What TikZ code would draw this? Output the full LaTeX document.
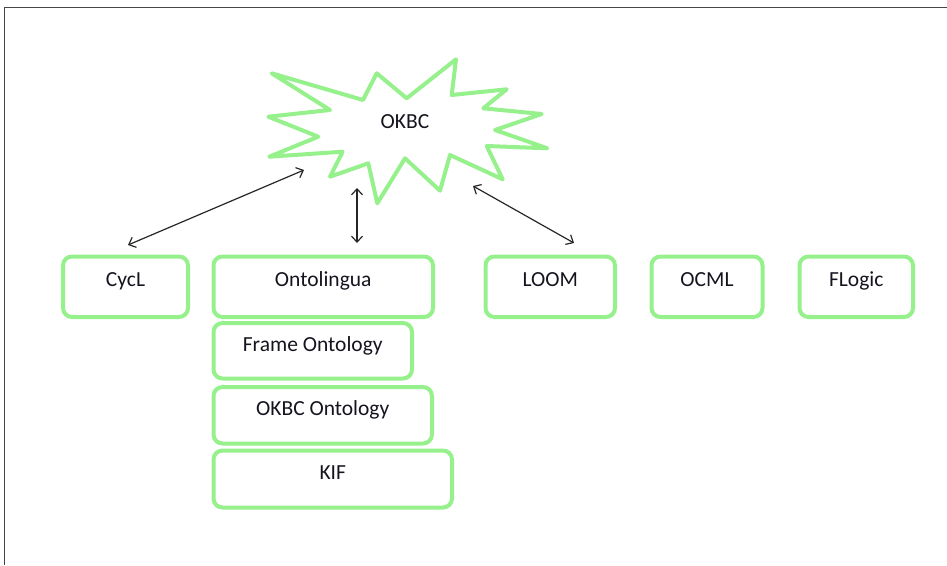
\documentclass[tikz,border=0pt]{standalone}
\usepackage{fontspec}
\setmainfont{Carlito}
\usetikzlibrary{arrows.meta}
\definecolor{lgreen}{RGB}{150,240,140}
\definecolor{framegray}{RGB}{70,70,70}
\definecolor{txt}{RGB}{20,20,30}
\tikzset{
  box/.style={draw=lgreen, line width=4pt, rounded corners=9pt, inner sep=0pt,
    font=\fontsize{21.5}{25}\selectfont, text=txt},
  link/.style={draw=black!85, line width=1.2pt, {Straight Barb[length=6pt,width=11pt]}-{Straight Barb[length=6pt,width=11pt]}},
  starline/.style={draw=lgreen, line width=4pt, line join=round}
}
\begin{document}
\begin{tikzpicture}[x=1pt,y=-1pt]
\useasboundingbox (0,0) rectangle (947,565);
% frame
\draw[framegray, line width=1.6pt] (4.5,565) -- (4.5,7.5) -- (947,7.5);
% star
\draw[starline] (271.7,73.3) -- (363,100) -- (376.7,73.3) -- (406.7,98.3) -- (456,59.3)
  -- (451.7,95) -- (506.7,89.3) -- (483.3,108.3) -- (541.7,114) -- (495,130)
  -- (547.3,148.3) -- (486.7,146) -- (502.7,179.3) -- (450,155) -- (440,190.7)
  -- (405,158.3) -- (377.3,203.3) -- (368.3,163.3) -- (330,176.7) -- (342.7,151.7)
  -- (269.3,156.7) -- (318.3,136.7) -- (268.3,116.7) -- (330,110) -- cycle;
\node[font=\fontsize{21.5}{25}\selectfont, text=txt] (okbc) at (405,121.7) {OKBC};
% boxes
\node[box, minimum width=125pt, minimum height=60.5pt, text height=30pt, text depth=30.5pt] (cycl) at (125.5,286.75) {CycL};
\node[box, minimum width=219.5pt, minimum height=60.5pt, text height=30pt, text depth=30.5pt] (onto) at (323.25,286.75) {Ontolingua};
\node[box, minimum width=198.5pt, minimum height=55.5pt, text height=28pt, text depth=27.5pt] (frame) at (312.75,350.75) {Frame Ontology};
\node[box, minimum width=218.5pt, minimum height=56.5pt, text height=28pt, text depth=28.5pt] (okbcont) at (322.75,415.25) {OKBC Ontology};
\node[box, minimum width=238.5pt, minimum height=57pt, text height=28.5pt, text depth=28.5pt] (kif) at (332.75,479) {KIF};
\node[box, minimum width=129.5pt, minimum height=60.5pt, text height=30pt, text depth=30.5pt] (loom) at (550.25,286.75) {LOOM};
\node[box, minimum width=111pt, minimum height=60.5pt, text height=30pt, text depth=30.5pt] (ocml) at (707,286.75) {OCML};
\node[box, minimum width=113.5pt, minimum height=60.5pt, text height=30pt, text depth=30.5pt] (flogic) at (856.25,286.75) {FLogic};
% arrow end points
\coordinate (a1s) at (304,170);
\coordinate (a1e) at (128,245);
\coordinate (a2s) at (357,188);
\coordinate (a2e) at (357,243);
\coordinate (a3s) at (473,186);
\coordinate (a3e) at (574,243);
\draw[link] (a1s) -- (a1e);
\draw[link] (a2s) -- (a2e);
\draw[link] (a3s) -- (a3e);
\end{tikzpicture}
\end{document}
